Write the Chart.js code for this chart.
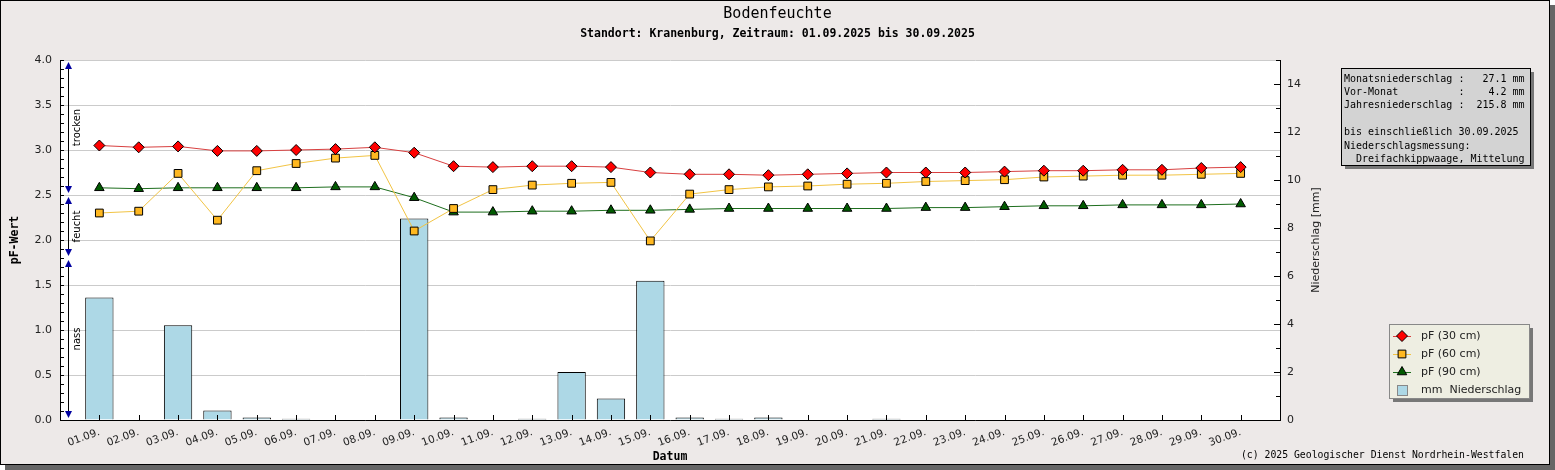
<!DOCTYPE html>
<html>
<head>
<meta charset="utf-8">
<script src="https://cdn.jsdelivr.net/npm/chart.js"></script>
<style>
  html, body { margin: 0; padding: 0; background: #fff; }
  #wrap { width: 1555px; height: 470px; }
</style>
</head>
<body>
<div id="wrap"><canvas id="chart" width="1555" height="470"></canvas></div>
<script>
// --- data ---
const days = ['01.09.', '02.09.', '03.09.', '04.09.', '05.09.', '06.09.', '07.09.', '08.09.', '09.09.', '10.09.',
              '11.09.', '12.09.', '13.09.', '14.09.', '15.09.', '16.09.', '17.09.', '18.09.', '19.09.', '20.09.',
              '21.09.', '22.09.', '23.09.', '24.09.', '25.09.', '26.09.', '27.09.', '28.09.', '29.09.', '30.09.'];

const pf30 = [3.05, 3.03, 3.04, 2.99, 2.99, 3.00, 3.01, 3.03, 2.97, 2.82,
              2.81, 2.82, 2.82, 2.81, 2.75, 2.73, 2.73, 2.72, 2.73, 2.74,
              2.75, 2.75, 2.75, 2.76, 2.77, 2.77, 2.78, 2.78, 2.80, 2.81];
const pf60 = [2.30, 2.32, 2.74, 2.22, 2.77, 2.85, 2.91, 2.94, 2.10, 2.35,
              2.56, 2.61, 2.63, 2.64, 1.99, 2.51, 2.56, 2.59, 2.60, 2.62,
              2.63, 2.65, 2.66, 2.67, 2.70, 2.71, 2.72, 2.72, 2.73, 2.74];
const pf90 = [2.58, 2.57, 2.58, 2.58, 2.58, 2.58, 2.59, 2.59, 2.47, 2.31,
              2.31, 2.32, 2.32, 2.33, 2.33, 2.34, 2.35, 2.35, 2.35, 2.35,
              2.35, 2.36, 2.36, 2.37, 2.38, 2.38, 2.39, 2.39, 2.39, 2.40];
const rain = [5.1, 0, 3.95, 0.4, 0.1, 0.05, 0, 0, 8.4, 0.1,
              0, 0.05, 2.0, 0.9, 5.8, 0.1, 0.05, 0.1, 0, 0,
              0.05, 0, 0, 0, 0, 0, 0, 0, 0, 0];

const zones = [4.0, 2.5, 1.8, 0];
const zoneNames = ['trocken', 'feucht', 'nass'];

const infoLines = [
  'Monatsniederschlag :   27.1 mm',
  'Vor-Monat          :    4.2 mm',
  'Jahresniederschlag :  215.8 mm',
  '',
  'bis einschließlich 30.09.2025',
  'Niederschlagsmessung:',
  '  Dreifachkippwaage, Mittelung'
];

// one empty slot on each side, like the original plot
const xLabels = ['', ...days, ''];
const pad = arr => [null, ...arr, null];

const SANS = 'DejaVu Sans';
const MONO = 'DejaVu Sans Mono';

const framePlugin = {
  id: 'frame',
  beforeDraw(chart) {
    const { ctx, width, height, chartArea: a } = chart;
    ctx.save();
    ctx.fillStyle = '#666';
    ctx.fillRect(5, 5, width - 5, height - 5);
    ctx.fillStyle = '#ede9e8';
    ctx.fillRect(0, 0, width - 5, height - 5);
    ctx.strokeStyle = '#000';
    ctx.lineWidth = 1;
    ctx.strokeRect(0.5, 0.5, width - 6, height - 6);
    ctx.fillStyle = '#fff';
    ctx.fillRect(a.left, a.top, a.right - a.left, a.bottom - a.top);
    ctx.restore();
  }
};

const ticksPlugin = {
  id: 'innerTicks',
  afterDatasetsDraw(chart) {
    const { ctx, scales: { x, y, y1 } } = chart;
    ctx.save();
    ctx.strokeStyle = '#000';
    ctx.lineWidth = 1;
    ctx.beginPath();
    for (let i = 1; i <= days.length; i++) {
      const px = Math.round(x.getPixelForValue(i)) + 0.5;
      ctx.moveTo(px, y.bottom);
      ctx.lineTo(px, y.bottom - 5);
    }
    for (let v = 0; v <= 40; v++) {
      const py = Math.round(y.getPixelForValue(v / 10)) + 0.5;
      ctx.moveTo(x.left, py);
      ctx.lineTo(x.left + 4, py);
    }
    for (let v = 0; v <= 15; v++) {
      const py = Math.round(y1.getPixelForValue(v)) + 0.5;
      ctx.moveTo(x.right, py);
      ctx.lineTo(x.right - (v % 2 === 0 ? 6 : 4), py);
    }
    ctx.stroke();

    // moisture zones on the left
    const lx = x.left + 8.5;
    zoneNames.forEach((name, i) => {
      const top = y.getPixelForValue(zones[i]) + 2;
      const bot = y.getPixelForValue(zones[i + 1]) - 2;
      ctx.strokeStyle = '#000';
      ctx.beginPath();
      ctx.moveTo(lx, top + 3);
      ctx.lineTo(lx, bot - 3);
      ctx.stroke();
      ctx.fillStyle = '#0000a0';
      ctx.beginPath();
      ctx.moveTo(lx, top);
      ctx.lineTo(lx - 3.5, top + 7);
      ctx.lineTo(lx + 3.5, top + 7);
      ctx.closePath();
      ctx.fill();
      ctx.beginPath();
      ctx.moveTo(lx, bot);
      ctx.lineTo(lx - 3.5, bot - 7);
      ctx.lineTo(lx + 3.5, bot - 7);
      ctx.closePath();
      ctx.fill();
      ctx.save();
      ctx.translate(lx + 8.5, (top + bot) / 2);
      ctx.rotate(-Math.PI / 2);
      ctx.fillStyle = '#000';
      ctx.font = '10px "' + SANS + '"';
      ctx.textAlign = 'center';
      ctx.textBaseline = 'middle';
      ctx.fillText(name, 0, 0);
      ctx.restore();
    });
    ctx.restore();
  }
};

const textPlugin = {
  id: 'texts',
  afterDraw(chart) {
    const { ctx, width, chartArea: a } = chart;
    ctx.save();
    ctx.fillStyle = '#000';
    ctx.textAlign = 'center';
    ctx.textBaseline = 'middle';
    ctx.font = '15px "' + MONO + '"';
    ctx.fillText('Bodenfeuchte', width / 2, 14);
    ctx.font = 'bold 11.5px "' + MONO + '"';
    ctx.fillText('Standort: Kranenburg, Zeitraum: 01.09.2025 bis 30.09.2025', width / 2, 34);
    ctx.fillText('Datum', (a.left + a.right) / 2, 457);

    ctx.save();
    ctx.translate(15, (a.top + a.bottom) / 2);
    ctx.rotate(-Math.PI / 2);
    ctx.fillText('pF-Wert', 0, 0);
    ctx.restore();

    ctx.save();
    ctx.translate(1316, (a.top + a.bottom) / 2);
    ctx.rotate(-Math.PI / 2);
    ctx.font = '11px "' + SANS + '"';
    ctx.fillStyle = '#222';
    ctx.fillText('Niederschlag [mm]', 0, 0);
    ctx.restore();

    ctx.textAlign = 'right';
    ctx.font = '9.8px "' + MONO + '"';
    ctx.fillText('(c) 2025 Geologischer Dienst Nordrhein-Westfalen', 1524, 455);

    // info box
    const bx = 1341, by = 68, bw = 189, bh = 97;
    ctx.fillStyle = '#777';
    ctx.fillRect(bx + 4, by + 4, bw, bh);
    ctx.fillStyle = '#d3d3d3';
    ctx.fillRect(bx, by, bw, bh);
    ctx.strokeStyle = '#000';
    ctx.strokeRect(bx + 0.5, by + 0.5, bw, bh);
    ctx.fillStyle = '#000';
    ctx.textAlign = 'left';
    ctx.font = '10px "' + MONO + '"';
    infoLines.forEach((line, i) => ctx.fillText(line, bx + 3, by + 11 + i * 13.4));

    // legend
    const gx = 1389, gy = 324, gw = 140, gh = 74;
    ctx.fillStyle = '#777';
    ctx.fillRect(gx + 4, gy + 4, gw, gh);
    ctx.fillStyle = '#eeeee2';
    ctx.fillRect(gx, gy, gw, gh);
    ctx.strokeStyle = '#888';
    ctx.strokeRect(gx + 0.5, gy + 0.5, gw, gh);
    ctx.font = '11px "' + SANS + '"';
    chart.data.datasets.forEach((ds, i) => {
      const cy = gy + 12 + i * 18;
      const cx = gx + 13;
      if (ds.type === 'line') {
        ctx.strokeStyle = ds.borderColor;
        ctx.lineWidth = 1;
        ctx.beginPath();
        ctx.moveTo(cx - 9, cy + 0.5);
        ctx.lineTo(cx + 9, cy + 0.5);
        ctx.stroke();
        ctx.fillStyle = ds.pointBackgroundColor;
        ctx.strokeStyle = ds.pointBorderColor;
        Chart.helpers.drawPoint(ctx, { pointStyle: ds.pointStyle, radius: ds.pointRadius, rotation: 0, borderWidth: 1 }, cx, cy);
      } else {
        ctx.fillStyle = ds.backgroundColor;
        ctx.fillRect(cx - 5, cy - 5, 10, 10);
        ctx.strokeStyle = '#888';
        ctx.strokeRect(cx - 4.5, cy - 4.5, 10, 10);
      }
      ctx.fillStyle = '#222';
      ctx.fillText(ds.label, gx + 32, cy);
    });
    ctx.restore();
  }
};

new Chart(document.getElementById('chart'), {
  data: {
    labels: xLabels,
    datasets: [
      {
        type: 'line', label: 'pF (30 cm)', data: pad(pf30), yAxisID: 'y', order: 1,
        borderColor: '#d84040', borderWidth: 1, tension: 0,
        pointStyle: 'rectRot', pointRadius: 5.5, pointBackgroundColor: '#ff0000',
        pointBorderColor: '#000', pointBorderWidth: 1
      },
      {
        type: 'line', label: 'pF (60 cm)', data: pad(pf60), yAxisID: 'y', order: 2,
        borderColor: '#f2c444', borderWidth: 1, tension: 0,
        pointStyle: 'rect', pointRadius: 5.5, pointBackgroundColor: '#ffb820',
        pointBorderColor: '#000', pointBorderWidth: 1
      },
      {
        type: 'line', label: 'pF (90 cm)', data: pad(pf90), yAxisID: 'y', order: 3,
        borderColor: '#1e6e1e', borderWidth: 1, tension: 0,
        pointStyle: 'triangle', pointRadius: 5.5, pointBackgroundColor: '#005a00',
        pointBorderColor: '#000', pointBorderWidth: 1
      },
      {
        type: 'bar', label: 'mm  Niederschlag', data: pad(rain), yAxisID: 'y1', order: 10,
        backgroundColor: '#add8e6', borderColor: '#000', borderWidth: 1,
        categoryPercentage: 1, barPercentage: 0.72
      }
    ]
  },
  options: {
    responsive: false,
    devicePixelRatio: 1,
    animation: false,
    layout: { padding: { top: 60, left: 0, right: 0, bottom: 0 } },
    plugins: { legend: { display: false }, tooltip: { enabled: false } },
    scales: {
      x: {
        type: 'category',
        offset: false,
        grid: { display: true, drawOnChartArea: false, drawTicks: false },
        border: { display: true, color: '#000', width: 1 },
        ticks: {
          autoSkip: false, minRotation: 20, maxRotation: 20, padding: 6,
          color: '#222', font: { family: SANS, size: 10.5 }
        },
        afterFit(s) { s.height = 50; }
      },
      y: {
        position: 'left', min: 0, max: 4,
        grid: { color: '#cbcbcb', drawTicks: false },
        border: { display: true, color: '#000', width: 1 },
        ticks: {
          stepSize: 0.5, padding: 8, color: '#222', font: { family: SANS, size: 11 },
          callback: v => v.toFixed(1)
        },
        afterFit(s) { s.width = 60; }
      },
      y1: {
        position: 'right', min: 0, max: 15,
        grid: { drawOnChartArea: false, drawTicks: false },
        border: { display: true, color: '#000', width: 1 },
        ticks: { stepSize: 2, includeBounds: false, padding: 7, color: '#222', font: { family: SANS, size: 11 } },
        afterFit(s) { s.width = 275; }
      }
    }
  },
  plugins: [framePlugin, ticksPlugin, textPlugin]
});
</script>
</body>
</html>
